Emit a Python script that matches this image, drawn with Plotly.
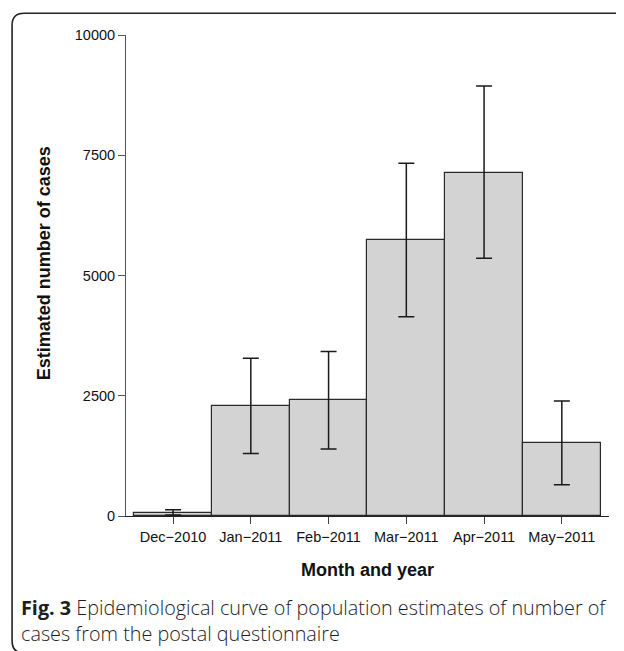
import plotly.graph_objects as go

months = ["Dec\u22122010", "Jan\u22122011", "Feb\u22122011", "Mar\u22122011", "Apr\u22122011", "May\u22122011"]
cases = [68, 2290, 2405, 5738, 7124, 1518]
upper = [130, 3280, 3420, 7332, 8940, 2390]
lower = [20, 1300, 1393, 4144, 5360, 651]
y_ticks = [0, 2500, 5000, 7500, 10000]

OFF = 8  # page body margin offset
W, H = 624 - OFF, 651 - OFF
L, R, T, B = 125.7 - OFF, 609.0 - OFF, 35.0 - OFF, 516.0 - OFF
pw, ph = R - L, B - T

def px(x):
    return (x - OFF - L) / pw

def py(y):
    return (B - (y - OFF)) / ph

xpos = [i + 0.5 for i in range(len(months))]
err_plus = [u - v for u, v in zip(upper, cases)]
err_minus = [v - lo for v, lo in zip(cases, lower)]

fig = go.Figure()
fig.add_trace(go.Bar(
    x=xpos, y=cases, width=1.0,
    marker=dict(color="#d3d3d3", line=dict(color="#2a2a2a", width=1.2)),
    error_y=dict(type="data", symmetric=False, array=err_plus, arrayminus=err_minus,
                 color="#1a1a1a", thickness=1.5, width=8),
    showlegend=False,
))

ux = 77.8  # px per category unit
x0 = (125.7 - 133.9) / ux
x1 = x0 + pw / ux

fig.update_xaxes(
    range=[x0, x1], tickvals=xpos, ticktext=months,
    showline=True, linecolor="#222", linewidth=1.2,
    ticks="outside", ticklen=7, tickcolor="#444", tickwidth=1,
    showgrid=False, zeroline=False,
    tickfont=dict(family="Liberation Sans, Arial", size=14.5, color="#111"),
)
fig.update_yaxes(
    range=[0, 10000], tickvals=y_ticks, ticktext=[str(v) for v in y_ticks],
    showline=True, linecolor="#555", linewidth=1,
    ticks="outside", ticklen=7, tickcolor="#555", tickwidth=1,
    showgrid=False, zeroline=False,
    tickfont=dict(family="Liberation Sans, Arial", size=14.5, color="#111"),
)

# rounded frame (top-left and bottom-left corners)
r = 12
fx, fy, fb = 11.7, 13.3, 653
pts = (f"M {px(640)},{py(fy)} L {px(fx + r)},{py(fy)} "
       f"Q {px(fx)},{py(fy)} {px(fx)},{py(fy + r)} "
       f"L {px(fx)},{py(fb - r)} Q {px(fx)},{py(fb)} {px(fx + r)},{py(fb)}")
fig.add_shape(type="path", path=pts, xref="paper", yref="paper",
              line=dict(color="#222", width=1.6))

fig.add_annotation(text="<b>Estimated number of cases</b>", x=px(44), y=py(263),
                   xref="paper", yref="paper", showarrow=False, textangle=-90,
                   xanchor="center", yanchor="middle",
                   font=dict(family="Liberation Sans, Arial", size=18, color="#111"))
fig.add_annotation(text="<b>Month and year</b>", x=px(367), y=py(570),
                   xref="paper", yref="paper", showarrow=False,
                   xanchor="center", yanchor="middle",
                   font=dict(family="Liberation Sans, Arial", size=18, color="#111"))
fig.add_annotation(text="<b>Fig. 3</b> Epidemiological curve of population estimates of number of",
                   x=px(19), y=py(607), xref="paper", yref="paper", showarrow=False,
                   xanchor="left", yanchor="middle",
                   font=dict(family="Open Sans", size=19.8, color="#1e1e1e", weight=300))
fig.add_annotation(text="cases from the postal questionnaire",
                   x=px(19), y=py(633), xref="paper", yref="paper", showarrow=False,
                   xanchor="left", yanchor="middle",
                   font=dict(family="Open Sans", size=19.8, color="#1e1e1e", weight=300))

fig.update_layout(
    width=W, height=H,
    margin=dict(l=L, r=W - R, t=T, b=H - B, pad=0),
    paper_bgcolor="white", plot_bgcolor="white",
    bargap=0,
)

fig.write_html("out.html")
